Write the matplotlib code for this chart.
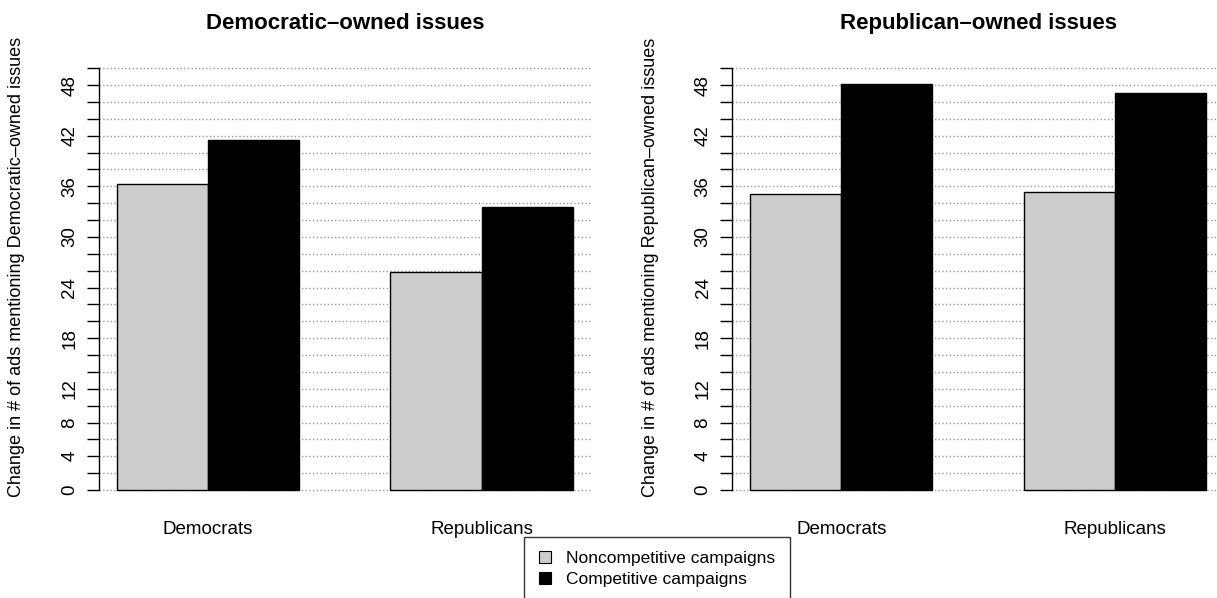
import matplotlib
matplotlib.use("Agg")
import matplotlib.pyplot as plt
from matplotlib.patches import Patch
import numpy as np

plt.rcParams['font.family'] = ['Liberation Sans', 'DejaVu Sans']

# data
parties = ['Democrats', 'Republicans']
panel_titles = ['Democratic\u2013owned issues', 'Republican\u2013owned issues']
ylabels = ['Change in # of ads mentioning Democratic\u2013owned issues',
           'Change in # of ads mentioning Republican\u2013owned issues']
noncompetitive = [[36.3, 25.9], [35.1, 35.3]]
competitive = [[41.5, 33.6], [48.1, 47.1]]
ytick_vals = np.arange(0, 51, 2)
ytick_shown = [0, 4, 8, 12, 18, 24, 30, 36, 42, 48]
series_names = ['Noncompetitive campaigns', 'Competitive campaigns']
series_colors = ['#cccccc', '#000000']

W, H = 1217, 598
fig = plt.figure(figsize=(W / 100, H / 100), dpi=100)

# axes placement in pixels (left, right)
panel_px = [(98.5, 591.0), (731.8, 1224.3)]
y_bot, y_top = 506.9, 51.4

for i, (x0, x1) in enumerate(panel_px):
    ax = fig.add_axes([x0 / W, 1 - y_bot / H, (x1 - x0) / W, (y_bot - y_top) / H])
    # dotted grid behind the bars
    for v in ytick_vals:
        ax.axhline(v, color='#999999', linestyle=':', linewidth=1.0, zorder=0)

    group_start = np.array([1.0, 4.0])
    ax.bar(group_start + 0.5, noncompetitive[i], width=1.0, color=series_colors[0],
           edgecolor='black', linewidth=1.0, zorder=2)
    ax.bar(group_start + 1.5, competitive[i], width=1.0, color=series_colors[1],
           edgecolor='black', linewidth=1.0, zorder=2)

    ax.set_xlim(0.8, 6.2)
    ax.set_ylim(-2, 52)

    for s in ['top', 'right', 'bottom']:
        ax.spines[s].set_visible(False)
    ax.spines['left'].set_bounds(0, 50)
    ax.spines['left'].set_linewidth(1.0)

    ax.set_yticks(ytick_vals)
    ax.set_yticklabels([str(v) if v in ytick_shown else '' for v in ytick_vals],
                       rotation=90, va='center', fontsize=13.5)
    ax.tick_params(axis='y', length=8.6, width=1.0, pad=6)

    ax.set_xticks(group_start + 1.0)
    ax.set_xticklabels(parties, fontsize=13.5)
    ax.tick_params(axis='x', length=0, pad=10)

    ax.set_title(panel_titles[i], fontsize=16, fontweight='bold', pad=16)
    ax.set_ylabel(ylabels[i], fontsize=13)
    ax.yaxis.set_label_coords(-81.5 / (x1 - x0), 0.526)
    ax.yaxis.label.set_va('center')

handles = [Patch(facecolor=c, edgecolor='black', linewidth=0.8) for c in series_colors]
leg = fig.legend(handles, series_names, loc='upper center',
                 bbox_to_anchor=(657 / W, 1 - 537 / H), fontsize=12.5,
                 frameon=True, fancybox=False, edgecolor='black',
                 handlelength=0.7, handleheight=0.7, handletextpad=0.9,
                 borderpad=0.82, borderaxespad=0, labelspacing=0.32)
leg.get_frame().set_linewidth(1.0)

fig.savefig('out.png', dpi=100, facecolor='white')
